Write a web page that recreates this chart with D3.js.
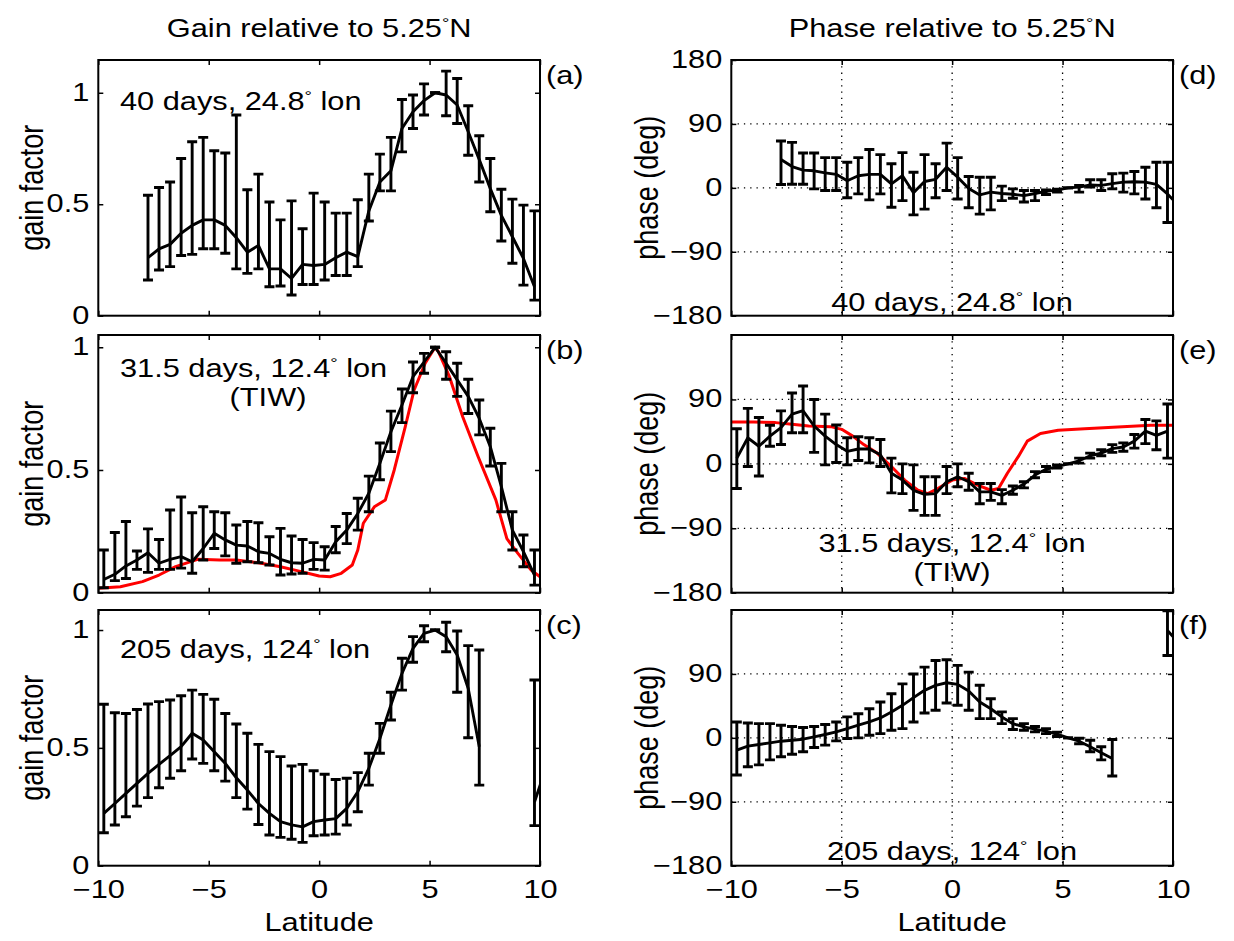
<!DOCTYPE html>
<html>
<head>
<meta charset="utf-8">
<script src="https://cdn.jsdelivr.net/npm/d3@7"></script>
<style>
  body { margin: 0; background: #fff; }
  text { font-family: "Liberation Sans", Arial, Helvetica, sans-serif; fill: #000; }
</style>
</head>
<body>
<svg id="chart" width="1234" height="941"></svg>
<script>
// ---- data ----
const xTicks = [-10, -5, 0, 5, 10];
const gainTicks = [0, 0.5, 1];
const phaseTicksTop = [-180, -90, 0, 90, 180];
const phaseTicks = [-180, -90, 0, 90];

// (a) 40 days, 24.8 lon
const latA = [-7.75, -7.25, -6.75, -6.25, -5.75, -5.25, -4.75, -4.25, -3.75, -3.25, -2.75, -2.25, -1.75, -1.25, -0.75, -0.25, 0.25, 0.75, 1.25, 1.75, 2.25, 2.75, 3.25, 3.75, 4.25, 4.75, 5.25, 5.75, 6.25, 6.75, 7.25, 7.75, 8.25, 8.75, 9.25, 9.75];
const gainA = [0.26, 0.30, 0.32, 0.37, 0.405, 0.43, 0.43, 0.405, 0.35, 0.285, 0.315, 0.21, 0.21, 0.167, 0.23, 0.225, 0.23, 0.26, 0.285, 0.265, 0.47, 0.60, 0.65, 0.84, 0.915, 0.965, 1.0, 0.99, 0.945, 0.825, 0.70, 0.57, 0.45, 0.354, 0.257, 0.13];
const gainAhi = [0.54, 0.575, 0.60, 0.705, 0.78, 0.80, 0.74, 0.73, 0.90, 0.565, 0.635, 0.51, 0.43, 0.515, 0.39, 0.55, 0.51, 0.46, 0.46, 0.52, 0.635, 0.725, 0.80, 0.97, 0.99, 1.04, 1.0, 1.097, 1.064, 0.942, 0.807, 0.705, 0.567, 0.523, 0.496, 0.47];
const gainAlo = [0.16, 0.205, 0.22, 0.27, 0.275, 0.30, 0.30, 0.28, 0.21, 0.19, 0.21, 0.13, 0.133, 0.093, 0.14, 0.14, 0.16, 0.18, 0.18, 0.22, 0.425, 0.56, 0.56, 0.735, 0.84, 0.90, 1.0, 0.897, 0.862, 0.72, 0.60, 0.466, 0.335, 0.235, 0.137, 0.07];

// (b) 31.5 days, 12.4 lon (TIW)
const latB = [-9.75, -9.25, -8.75, -8.25, -7.75, -7.25, -6.75, -6.25, -5.75, -5.25, -4.75, -4.25, -3.75, -3.25, -2.75, -2.25, -1.75, -1.25, -0.75, -0.25, 0.25, 0.75, 1.25, 1.75, 2.25, 2.75, 3.25, 3.75, 4.25, 4.75, 5.25, 5.75, 6.25, 6.75, 7.25, 7.75, 8.25, 8.75, 9.25, 9.75];
const gainB = [0.054, 0.075, 0.109, 0.133, 0.163, 0.12, 0.136, 0.147, 0.126, 0.18, 0.242, 0.215, 0.194, 0.19, 0.167, 0.16, 0.136, 0.122, 0.12, 0.136, 0.133, 0.208, 0.255, 0.323, 0.405, 0.527, 0.656, 0.765, 0.88, 0.94, 1.0, 0.935, 0.867, 0.80, 0.71, 0.595, 0.432, 0.255, 0.167, 0.072];
const gainBhi = [0.174, 0.245, 0.29, 0.17, 0.26, 0.217, 0.337, 0.39, 0.326, 0.35, 0.33, 0.326, 0.276, 0.29, 0.285, 0.228, 0.262, 0.231, 0.217, 0.204, 0.187, 0.27, 0.323, 0.385, 0.475, 0.61, 0.74, 0.83, 0.94, 0.975, 1.0, 0.982, 0.935, 0.87, 0.785, 0.67, 0.527, 0.33, 0.235, 0.174];
const gainBlo = [0.02, 0.049, 0.058, 0.095, 0.083, 0.095, 0.095, 0.10, 0.079, 0.133, 0.18, 0.15, 0.12, 0.126, 0.122, 0.113, 0.072, 0.076, 0.079, 0.095, 0.092, 0.163, 0.20, 0.255, 0.33, 0.46, 0.575, 0.693, 0.815, 0.894, 1.0, 0.87, 0.80, 0.73, 0.643, 0.516, 0.33, 0.174, 0.106, 0.031];
const modelLatB = [-10, -9, -8, -7.25, -6.5, -5.5, -4.5, -3.75, -2.75, -1.75, -1, 0, 0.5, 1, 1.5, 1.75, 2, 2.5, 3, 3.4, 3.9, 4.3, 4.8, 5.25, 5.4, 5.9, 6.5, 7.2, 8, 8.5, 9, 9.6, 10];
const modelGainB = [0.018, 0.024, 0.045, 0.072, 0.106, 0.136, 0.133, 0.133, 0.122, 0.106, 0.09, 0.068, 0.065, 0.079, 0.113, 0.174, 0.283, 0.35, 0.378, 0.5, 0.677, 0.826, 0.935, 1.0, 0.982, 0.88, 0.717, 0.554, 0.378, 0.22, 0.16, 0.092, 0.065];

// (c) 205 days, 124 lon
const latC = [-9.75, -9.25, -8.75, -8.25, -7.75, -7.25, -6.75, -6.25, -5.75, -5.25, -4.75, -4.25, -3.75, -3.25, -2.75, -2.25, -1.75, -1.25, -0.75, -0.25, 0.25, 0.75, 1.25, 1.75, 2.25, 2.75, 3.25, 3.75, 4.25, 4.75, 5.25, 5.75, 6.25, 6.75, 7.25, 7.75, 8.25, 8.75, 9.25, 9.75, 10.25];
const gainC = [0.222, 0.264, 0.307, 0.349, 0.392, 0.43, 0.467, 0.505, 0.562, 0.533, 0.484, 0.434, 0.373, 0.321, 0.264, 0.222, 0.187, 0.173, 0.165, 0.187, 0.194, 0.2, 0.243, 0.314, 0.413, 0.54, 0.682, 0.816, 0.922, 0.986, 1.0, 0.972, 0.894, 0.752, 0.505, null, null, null, null, 0.27, 0.41];
const gainChi = [0.685, 0.649, 0.646, 0.663, 0.686, 0.696, 0.703, 0.721, 0.745, 0.727, 0.706, 0.646, 0.601, 0.562, 0.515, 0.484, 0.463, 0.423, 0.43, 0.403, 0.388, 0.366, 0.371, 0.395, 0.477, 0.604, 0.736, 0.88, 0.972, 1.018, 1.0, 1.033, 0.996, 0.934, 0.915, null, null, null, null, 0.788, 0.9];
const gainClo = [0.14, 0.173, 0.208, 0.253, 0.289, 0.331, 0.371, 0.403, 0.453, 0.434, 0.403, 0.359, 0.289, 0.24, 0.175, 0.13, 0.12, 0.112, 0.099, 0.127, 0.13, 0.134, 0.173, 0.229, 0.342, 0.477, 0.618, 0.745, 0.863, 0.95, 1.0, 0.908, 0.736, 0.543, 0.342, null, null, null, null, 0.17, 0.2];

// (d) 40 days, 24.8 lon
const latD = [-7.75, -7.25, -6.75, -6.25, -5.75, -5.25, -4.75, -4.25, -3.75, -3.25, -2.75, -2.25, -1.75, -1.25, -0.75, -0.25, 0.25, 0.75, 1.25, 1.75, 2.25, 2.75, 3.25, 3.75, 4.25, 4.75, 5.25, 5.75, 6.25, 6.75, 7.25, 7.75, 8.25, 8.75, 9.25, 9.75, 10.25];
const phaseD = [40, 30, 25, 24, 21, 19, 10, 17, 19, 19, 5.7, 17, -7, 9, 12, 29, 15, -1, -10, -6, -8, -9, -11, -8, -5, -3, 0, 1, 4, 3.5, 6, 8, 8.5, 8, 5, -8.5, -25];
const phaseDhi = [66, 64, 49, 49, 42.5, 42.5, 36, 42.5, 54, 46.8, 34, 49.6, 22, 46.8, 34, 63, 42.5, 16, 15, 15, 2.4, -1.4, -3.8, -3.8, -2.8, -2, 0, 3.3, 11.3, 11.3, 19.8, 20.8, 23, 29, 36, 36, 10];
const phaseDlo = [4.7, 5, 5, -1.4, -3.8, -3.8, -14, -8.5, -17, -8.5, -27.4, -18, -38, -30, -14, -3.8, -15.6, -28, -37, -31, -18, -14.6, -20, -18, -9.4, -6, 0, -6, 1, -3.8, -1.4, -6, -8.5, -15.6, -28, -48.7, -60];

// (e) 31.5 days, 12.4 lon (TIW)
const latE = latB;
const phaseE = [8, 36.4, 24.6, 38.7, 50.5, 69.4, 74.2, 52.9, 38.7, 26.9, 17.5, 20.8, 20.8, 12.8, -13.2, -22.7, -36.9, -42.5, -41.6, -25, -18, -25, -39.2, -39.2, -44, -36.9, -28.3, -15.6, -7.6, -3.8, 0, 4.3, 11.3, 15, 21.3, 23.6, 31.7, 45.8, 39.7, 45.8];
const phaseEhi = [49, 77.5, 64.7, 53.9, 74, 99, 108.7, 89.8, 69.4, 54.3, 36.4, 37.8, 36.4, 34, 8, 0, -1.4, -18, -18, -3.8, 0, -13.2, -27.4, -27.4, -36, -31, -25, -10.9, -3.8, -1.4, 0, 8, 15, 19.8, 26.9, 29.3, 41, 62, 60, 83.6];
const phaseElo = [-34.5, -3.8, -17, 24.6, 27, 43.5, 43.5, 16, -1.4, 1.9, -1.4, 4.7, 1.4, -3.8, -40.6, -41.6, -65, -72, -72, -41.6, -32, -36.9, -55.7, -51, -55.7, -42.5, -33.5, -19.4, -10.9, -6, 0, 1, 8, 11.3, 16, 17.5, 22, 28.3, 19.8, 8];
const modelLatE = [-10, -9, -8, -7.25, -6.5, -5.5, -5, -4.5, -4, -3.4, -2.75, -2.15, -1.55, -1.1, -0.65, 0, 0.55, 1.15, 1.75, 2.1, 2.5, 3, 3.4, 4, 4.8, 6, 7.5, 9, 10];
const modelPhaseE = [58.6, 58.6, 57.6, 55.3, 52.9, 52, 48.2, 38.7, 26.9, 15.1, -3.8, -22.7, -36.9, -41.6, -34.5, -22.7, -20.3, -29.8, -36.9, -34.5, -13.2, 10.4, 31.7, 42.5, 46.8, 49, 51.5, 53.9, 53.9];

// (f) 205 days, 124 lon
const latF = latC;
const phaseF = [-17.3, -11.7, -9.4, -7, -4.7, -3.3, -1.9, 1.4, 4.7, 8.4, 13.1, 17.8, 22.4, 28, 36.5, 45.8, 56.6, 66.9, 73.9, 77.6, 75.3, 65.9, 50.5, 41, 29.5, 20, 15.4, 12.2, 9.4, 5.1, 0, -4.7, -12.6, -21, -29, null, null, null, null, 151, 134];
const phaseFhi = [22.4, 21, 20, 20, 17.8, 16, 14.5, 16, 18.7, 22.4, 29.5, 34, 41, 50.5, 62, 76, 90, 99.6, 109, 110, 102, 92.6, 74, 55, 36.5, 27, 20, 16, 13, 8, 0, -0.5, -3.3, -12.6, -2.3, null, null, null, null, 179, 170];
const phaseFlo = [-52.4, -40.7, -38, -31, -26.6, -23, -19.6, -13.6, -10.3, -4.2, -0.9, 0, 3.7, 6, 10.8, 13, 22.4, 35, 38.8, 49, 45.8, 38.8, 27, 27, 20, 11.7, 10.8, 8.4, 6, 2, 0, -8.4, -19.6, -31, -53.8, null, null, null, null, 116, 100];

// ---- layout ----
const SX = 1.23;   // the source figure's text is stretched horizontally
const FS = 25;     // label font size
const YFS = 27;    // y axis title size
const cols = {
  left: { x0: 98.3, x1: 540, ylab: 43 },
  right: { x0: 731.3, x1: 1173, ylab: 658 },
};
const rows = [
  { top: 60, bottom: 315.7 },
  { top: 335, bottom: 592.7 },
  { top: 610, bottom: 865.7 },
];

const svg = d3.select('#chart');
const defs = svg.append('defs');
const minus = d => (d < 0 ? '\u2212' + Math.abs(d) : String(d));

function stretchText(parent, x, y, str, anchor, size) {
  return parent.append('text')
    .attr('transform', `translate(${x},${y}) scale(${SX},1)`)
    .attr('text-anchor', anchor || 'start')
    .attr('font-size', size || FS)
    .text(str);
}

function degText(parent, x, y, before, after, anchor) {
  const t = parent.append('text')
    .attr('transform', `translate(${x},${y}) scale(${SX},1)`)
    .attr('text-anchor', anchor)
    .attr('font-size', FS);
  t.append('tspan').text(before);
  t.append('tspan').attr('font-size', 15).attr('dy', -9).text('\u00b0');
  t.append('tspan').attr('dy', 9).text(after);
  return t;
}

const panels = [
  { id: 'a', col: 'left', row: 0, yDomain: [0, 1.147], yTicks: gainTicks, yFmt: d3.format('~g'),
    lat: latA, val: gainA, hi: gainAhi, lo: gainAlo, label: '(a)' },
  { id: 'b', col: 'left', row: 1, yDomain: [0, 1.05], yTicks: gainTicks, yFmt: d3.format('~g'),
    lat: latB, val: gainB, hi: gainBhi, lo: gainBlo, label: '(b)', modelLat: modelLatB, model: modelGainB },
  { id: 'c', col: 'left', row: 2, yDomain: [0, 1.085], yTicks: gainTicks, yFmt: d3.format('~g'),
    lat: latC, val: gainC, hi: gainChi, lo: gainClo, label: '(c)' },
  { id: 'd', col: 'right', row: 0, yDomain: [-180, 180], yTicks: phaseTicksTop, yFmt: minus, grid: true,
    lat: latD, val: phaseD, hi: phaseDhi, lo: phaseDlo, label: '(d)' },
  { id: 'e', col: 'right', row: 1, yDomain: [-180, 180], yTicks: phaseTicks, yFmt: minus, grid: true,
    lat: latE, val: phaseE, hi: phaseEhi, lo: phaseElo, label: '(e)', modelLat: modelLatE, model: modelPhaseE },
  { id: 'f', col: 'right', row: 2, yDomain: [-180, 180], yTicks: phaseTicks, yFmt: minus, grid: true,
    lat: latF, val: phaseF, hi: phaseFhi, lo: phaseFlo, label: '(f)' },
];

function drawPanel(p) {
  const c = cols[p.col];
  const r = rows[p.row];
  const x = d3.scaleLinear().domain([-10, 10]).range([c.x0, c.x1]);
  const y = d3.scaleLinear().domain(p.yDomain).range([r.bottom, r.top]);
  const g = svg.append('g').attr('class', 'panel-' + p.id);

  defs.append('clipPath').attr('id', 'clip-' + p.id)
    .append('rect')
    .attr('x', c.x0).attr('y', r.top)
    .attr('width', c.x1 - c.x0).attr('height', r.bottom - r.top);

  const plot = g.append('g').attr('clip-path', `url(#clip-${p.id})`);

  if (p.grid) {
    plot.selectAll('.vgrid').data(xTicks.slice(1, -1)).join('line')
      .attr('x1', d => x(d)).attr('x2', d => x(d))
      .attr('y1', r.top).attr('y2', r.bottom);
    plot.selectAll('.hgrid').data([-90, 0, 90]).join('line')
      .attr('y1', d => y(d)).attr('y2', d => y(d))
      .attr('x1', c.x0).attr('x2', c.x1);
    plot.selectAll('line')
      .attr('stroke', '#000').attr('stroke-width', 1.3)
      .attr('stroke-dasharray', '1.3,5');
  }

  if (p.model) {
    const pts = p.modelLat.map((d, i) => [d, p.model[i]]);
    plot.append('path').datum(pts)
      .attr('d', d3.line().x(d => x(d[0])).y(d => y(d[1])))
      .attr('fill', 'none').attr('stroke', '#ff0000')
      .attr('stroke-width', 3).attr('stroke-linejoin', 'round');
  }

  const pts = p.lat.map((d, i) => ({ lat: d, v: p.val[i], hi: p.hi[i], lo: p.lo[i] }));
  plot.append('path').datum(pts)
    .attr('d', d3.line().defined(d => d.v != null).x(d => x(d.lat)).y(d => y(d.v)))
    .attr('fill', 'none').attr('stroke', '#000')
    .attr('stroke-width', 2.9).attr('stroke-linejoin', 'round');

  const cap = 5;
  const bars = plot.selectAll('g.eb').data(pts.filter(d => d.hi != null)).join('g')
    .attr('stroke', '#000').attr('stroke-width', 2.9);
  bars.append('line')
    .attr('x1', d => x(d.lat)).attr('x2', d => x(d.lat))
    .attr('y1', d => y(d.hi)).attr('y2', d => y(d.lo));
  bars.append('line')
    .attr('x1', d => x(d.lat) - cap).attr('x2', d => x(d.lat) + cap)
    .attr('y1', d => y(d.hi)).attr('y2', d => y(d.hi));
  bars.append('line')
    .attr('x1', d => x(d.lat) - cap).attr('x2', d => x(d.lat) + cap)
    .attr('y1', d => y(d.lo)).attr('y2', d => y(d.lo));

  // axes with inward ticks on all four sides
  const styleAxis = a => {
    a.select('.domain').remove();
    a.selectAll('.tick line').attr('stroke', '#000').attr('stroke-width', 1.5);
    a.attr('font-family', null).attr('font-size', null);
  };
  const none = () => '';
  const bottomAxis = g.append('g').attr('transform', `translate(0,${r.bottom})`)
    .call(d3.axisBottom(x).tickValues(xTicks).tickSize(-5).tickFormat(p.row === 2 ? minus : none))
    .call(styleAxis);
  bottomAxis.selectAll('text')
    .attr('y', 0).attr('dy', null).attr('font-size', FS)
    .attr('transform', `translate(0,32) scale(${SX},1)`);
  g.append('g').attr('transform', `translate(0,${r.top})`)
    .call(d3.axisTop(x).tickValues(xTicks).tickSize(-5).tickFormat(none))
    .call(styleAxis);
  const leftAxis = g.append('g').attr('transform', `translate(${c.x0},0)`)
    .call(d3.axisLeft(y).tickValues(p.yTicks).tickSize(-5).tickFormat(p.yFmt))
    .call(styleAxis);
  leftAxis.selectAll('text')
    .attr('x', 0).attr('dy', '0.3em').attr('font-size', FS)
    .attr('transform', `translate(-9,0) scale(${SX},1)`);
  g.append('g').attr('transform', `translate(${c.x1},0)`)
    .call(d3.axisRight(y).tickValues(p.yTicks).tickSize(-5).tickFormat(none))
    .call(styleAxis);

  g.append('rect')
    .attr('x', c.x0).attr('y', r.top)
    .attr('width', c.x1 - c.x0).attr('height', r.bottom - r.top)
    .attr('fill', 'none').attr('stroke', '#000').attr('stroke-width', 2);

  stretchText(g, c.x1 + 6, r.top + 24, p.label, 'start');

  // y axis title
  const yl = p.col === 'left' ? 'gain factor' : 'phase (deg)';
  g.append('text')
    .attr('transform', `translate(${c.ylab},${(r.top + r.bottom) / 2}) rotate(-90) scale(1,${SX})`)
    .attr('text-anchor', 'middle').attr('font-size', YFS)
    .text(yl);

  return { g, x, y, c, r };
}

const drawn = panels.map(drawPanel);

// in-panel annotations
degText(drawn[0].g, 120, 110, '40 days, 24.8', ' lon', 'start');
degText(drawn[1].g, 120, 377, '31.5 days, 12.4', ' lon', 'start');
stretchText(drawn[1].g, 268, 406, '(TIW)', 'middle');
degText(drawn[2].g, 120, 658, '205 days, 124', ' lon', 'start');
degText(drawn[3].g, 952, 311, '40 days, 24.8', ' lon', 'middle');
degText(drawn[4].g, 952, 552, '31.5 days, 12.4', ' lon', 'middle');
stretchText(drawn[4].g, 952, 581, '(TIW)', 'middle');
degText(drawn[5].g, 952, 860, '205 days, 124', ' lon', 'middle');

// column titles and x labels
degText(svg, (cols.left.x0 + cols.left.x1) / 2, 37, 'Gain relative to 5.25', 'N', 'middle');
degText(svg, (cols.right.x0 + cols.right.x1) / 2, 37, 'Phase relative to 5.25', 'N', 'middle');
stretchText(svg, (cols.left.x0 + cols.left.x1) / 2, 931, 'Latitude', 'middle');
stretchText(svg, (cols.right.x0 + cols.right.x1) / 2, 931, 'Latitude', 'middle');
</script>
</body>
</html>
